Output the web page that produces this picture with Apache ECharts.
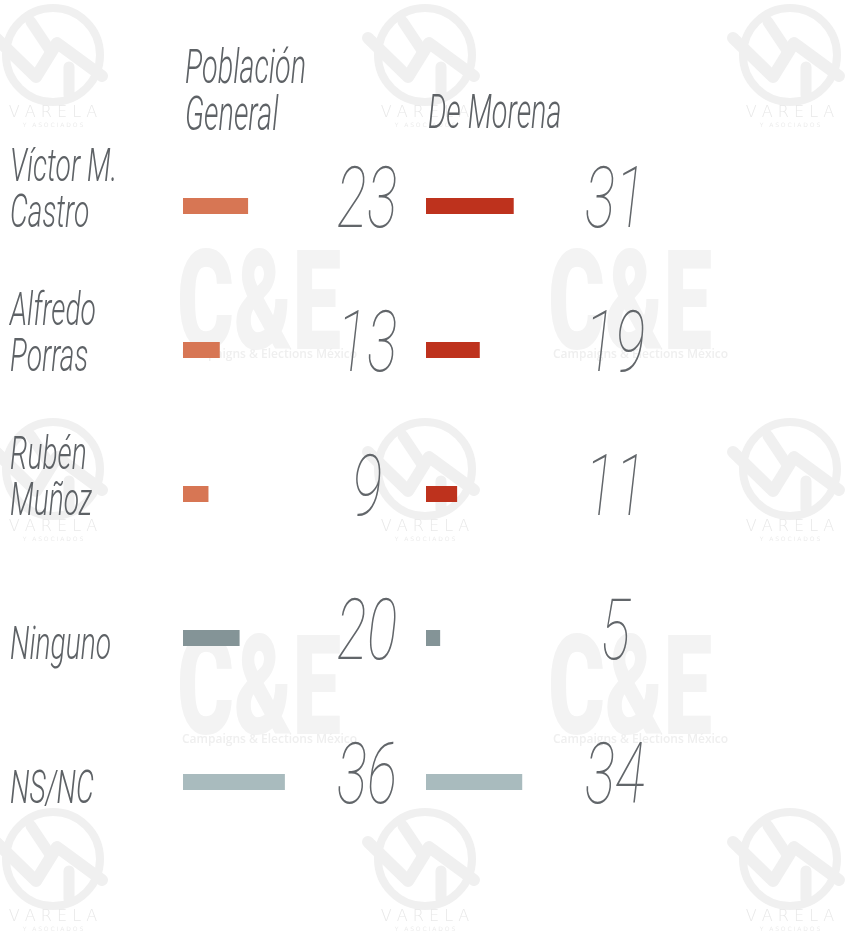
<!DOCTYPE html>
<html>
<head>
<meta charset="utf-8">
<script src="https://cdn.jsdelivr.net/npm/echarts@6/dist/echarts.min.js"></script>
<style>
    html, body { margin: 0; padding: 0; background: #fff; }
    #chart { width: 859px; height: 933px; }
</style>
</head>
<body>
<div id="chart"></div>
<script>
    // datos
    const categories = ['Víctor M.\nCastro', 'Alfredo\nPorras', 'Rubén\nMuñoz', 'Ninguno', 'NS/NC'];
    const poblacionGeneral = [23, 13, 9, 20, 36];
    const deMorena = [31, 19, 11, 5, 34];
    const columnTitles = ['Población\nGeneral', 'De Morena'];

    // colores por fila
    const colorsGeneral = ['#d77654', '#d77654', '#d77654', '#849497', '#a9bbbe'];
    const colorsMorena = ['#be321d', '#be321d', '#be321d', '#849497', '#a9bbbe'];

    const textGray = '#5e6266';
    const markGray = '#f0f0f0';

    const chart = echarts.init(document.getElementById('chart'));

    // barra + numero grande
    function barRender(colors, labelOffset) {
        return function (params, api) {
            const i = api.value(0);
            const v = api.value(1);
            const p0 = api.coord([0, i]);
            const p1 = api.coord([v, i]);
            return {
                type: 'group',
                children: [
                    {
                        type: 'rect',
                        shape: { x: p0[0], y: p0[1] - 8, width: p1[0] - p0[0], height: 16 },
                        style: { fill: colors[i] }
                    },
                    {
                        type: 'text',
                        x: p0[0] + labelOffset,
                        y: p0[1] - 1,
                        scaleX: 0.66,
                        style: {
                            text: String(v),
                            fill: '#62666a',
                            font: 'italic 100 86px Roboto',
                            align: 'center',
                            verticalAlign: 'middle'
                        }
                    }
                ]
            };
        };
    }

    // nombres de candidatos
    function nameRender(params, api) {
        const i = api.value(0);
        const p = api.coord([0, i]);
        return {
            type: 'text',
            x: 10,
            y: p[1] + 32,
            scaleX: 0.6,
            style: {
                text: categories[i],
                fill: textGray,
                font: 'italic 300 47px Roboto',
                lineHeight: 46,
                align: 'left',
                verticalAlign: 'bottom'
            }
        };
    }

    // marcas de agua
    function varela(cx, cy) {
        return {
            type: 'group', x: cx, y: cy, silent: true,
            children: [
                { type: 'circle', shape: { cx: 0, cy: 0, r: 47 }, style: { fill: null, stroke: markGray, lineWidth: 8 } },
                { type: 'polyline', shape: { points: [[-57, -17], [-17, 22], [4, -12], [49, 21]] },
                  style: { stroke: markGray, lineWidth: 12, lineCap: 'round', lineJoin: 'round', fill: null } },
                { type: 'line', shape: { x1: -22, y1: -33, x2: -4, y2: -6 }, style: { stroke: markGray, lineWidth: 11, lineCap: 'round' } },
                { type: 'line', shape: { x1: 16, y1: 12, x2: 16, y2: 40 }, style: { stroke: markGray, lineWidth: 11, lineCap: 'round' } },
                { type: 'text', x: 0, y: 58, style: { text: 'V A R E L A', fill: '#e8e8e8', font: '300 16px "DejaVu Sans"', align: 'center', verticalAlign: 'middle' } },
                { type: 'text', x: 0, y: 70, style: { text: 'Y   A S O C I A D O S', fill: '#ececec', font: '6px "DejaVu Sans"', align: 'center', verticalAlign: 'middle' } }
            ]
        };
    }

    function cye(x, y) {
        return {
            type: 'group', x: x, y: y, silent: true,
            children: [
                { type: 'text', x: 0, y: 0, scaleX: 0.62,
                  style: { text: 'C&E', fill: '#f3f3f3', font: '900 140px Roboto', align: 'left', verticalAlign: 'top' } },
                { type: 'text', x: 5, y: 105,
                  style: { text: 'Campaigns & Elections México', fill: '#efefef', font: '600 12px "Open Sans"', align: 'left', verticalAlign: 'top' } }
            ]
        };
    }

    const marks = [];
    [55, 469, 859].forEach(function (cy) {
        [53, 425, 790].forEach(function (cx) { marks.push(varela(cx, cy)); });
    });
    marks.push(cye(177, 244), cye(548, 244), cye(177, 629), cye(548, 629));

    // titulos de columna
    marks.push({
        type: 'text', x: 185, y: 94, scaleX: 0.6, z: 10,
        style: { text: columnTitles[0], fill: textGray, font: 'italic 300 48px Roboto', lineHeight: 47, align: 'left', verticalAlign: 'middle' }
    });
    marks.push({
        type: 'text', x: 428, y: 116, scaleX: 0.6, z: 10,
        style: { text: columnTitles[1], fill: textGray, font: 'italic 300 48px Roboto', lineHeight: 47, align: 'left', verticalAlign: 'middle' }
    });

    const rows = categories.map(function (c, i) { return i; });

    chart.setOption({
        backgroundColor: '#ffffff',
        animation: false,
        graphic: marks,
        grid: [
            { left: 183, top: 134, width: 283, height: 720 },
            { left: 426, top: 134, width: 283, height: 720 }
        ],
        xAxis: [
            { gridIndex: 0, type: 'value', min: 0, max: 100, show: false },
            { gridIndex: 1, type: 'value', min: 0, max: 100, show: false }
        ],
        yAxis: [
            { gridIndex: 0, type: 'category', data: categories, inverse: true, show: false },
            { gridIndex: 1, type: 'category', data: categories, inverse: true, show: false }
        ],
        series: [
            {
                name: 'Población General', type: 'custom', xAxisIndex: 0, yAxisIndex: 0,
                encode: { x: 1, y: 0 },
                data: rows.map(function (i) { return [i, poblacionGeneral[i]]; }),
                renderItem: barRender(colorsGeneral, 184)
            },
            {
                name: 'De Morena', type: 'custom', xAxisIndex: 1, yAxisIndex: 1,
                encode: { x: 1, y: 0 },
                data: rows.map(function (i) { return [i, deMorena[i]]; }),
                renderItem: barRender(colorsMorena, 189)
            },
            {
                name: 'candidatos', type: 'custom', xAxisIndex: 0, yAxisIndex: 0,
                encode: { x: 1, y: 0 },
                data: rows.map(function (i) { return [i, 0]; }),
                renderItem: nameRender
            }
        ]
    });
</script>
</body>
</html>
